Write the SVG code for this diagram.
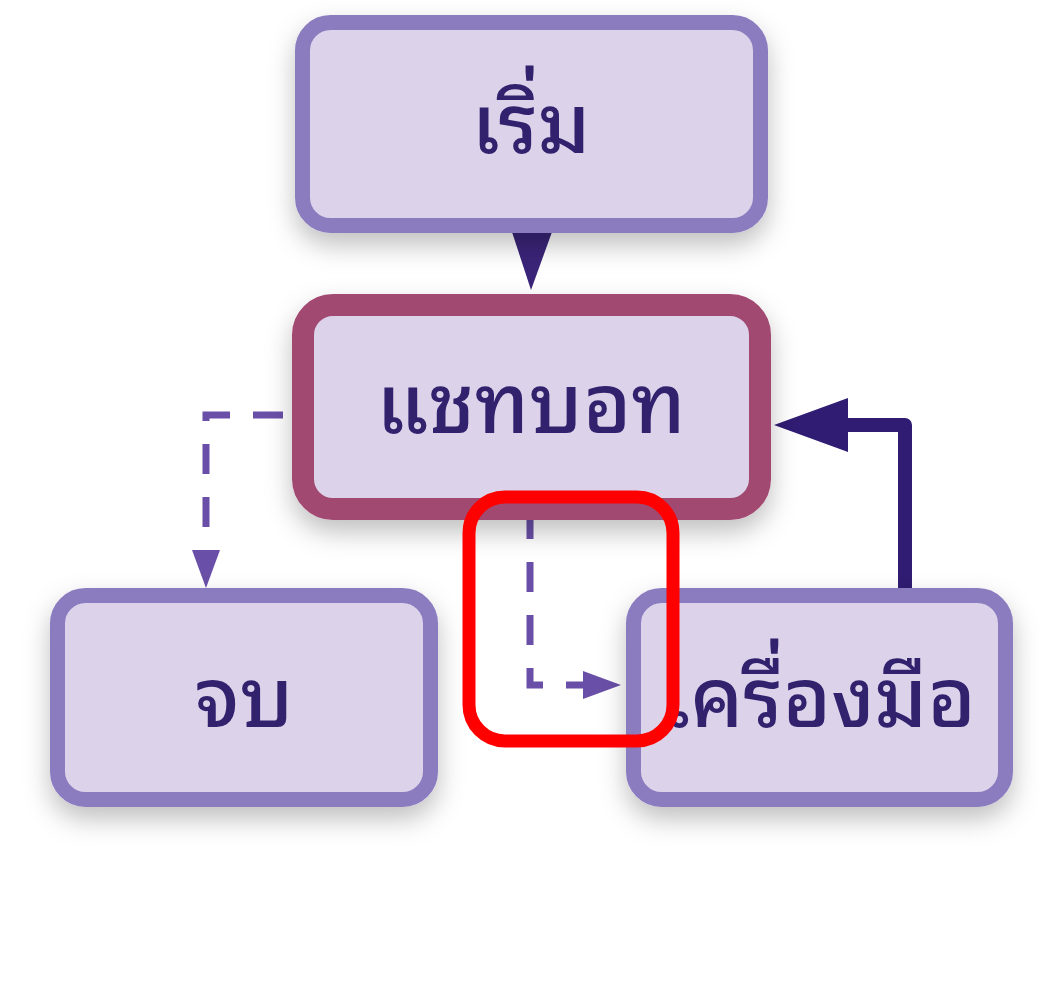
<svg xmlns="http://www.w3.org/2000/svg" width="1064" height="992" viewBox="0 0 1064 992">
  <defs>
    <filter id="shadow" x="-20%" y="-20%" width="140%" height="160%">
      <feDropShadow dx="0" dy="12" stdDeviation="13" flood-color="#000000" flood-opacity="0.25"/>
    </filter>
    <marker id="dashHead" markerUnits="userSpaceOnUse" markerWidth="40" markerHeight="30" refX="0" refY="14" orient="auto">
      <path d="M0,0 L38,14 L0,28 Z" fill="#6a4fa8"/>
    </marker>
    <marker id="solidHead" markerUnits="userSpaceOnUse" markerWidth="76" markerHeight="56" refX="18" refY="27" orient="auto">
      <path d="M0,0 L74,27 L0,54 Z" fill="#301c72"/>
    </marker>
    <style>
      .node { fill: #dcd3ea; stroke: #8b7bc0; stroke-width: 15; }
      .hub { fill: #dcd3ea; stroke: #a24a72; stroke-width: 22; }
      .label { font-family: "Noto Sans Thai Looped", "Garuda", "Loma", "Waree", "Noto Sans Thai", "Noto Sans", "DejaVu Sans", sans-serif; font-size: 82px; fill: #33206e; text-anchor: middle; font-weight: 500; }
      .dash { fill: none; stroke: #6a4fa8; stroke-width: 7; stroke-dasharray: 30 23; }
      .solid { fill: none; stroke: #301c72; stroke-width: 14; stroke-linejoin: round; }
    </style>
  </defs>
  <rect width="1064" height="992" fill="#ffffff"/>

  <g id="connectors">
    <polygon points="512,232 552,232 531,290" fill="#3a2478"/>
    <path class="dash" d="M283,415 H206 V550" marker-end="url(#dashHead)"/>
    <path class="dash" d="M530,519 V685 H583" stroke-dashoffset="10" marker-end="url(#dashHead)"/>
    <path class="solid" d="M905,588 V425 H830" marker-end="url(#solidHead)"/>
  </g>

  <g id="start" filter="url(#shadow)">
    <rect class="node" x="302.5" y="22.5" width="458" height="203" rx="28"/>
    <text class="label" x="531" y="153">เริ่ม</text>
  </g>

  <g id="chatbot" filter="url(#shadow)">
    <rect class="hub" x="303" y="305" width="457" height="204" rx="30"/>
    <text class="label" x="531" y="433">แชทบอท</text>
  </g>

  <g id="end" filter="url(#shadow)">
    <rect class="node" x="57.5" y="595.5" width="373" height="204" rx="28"/>
    <text class="label" x="244" y="727">จบ</text>
  </g>

  <g id="tools" filter="url(#shadow)">
    <rect class="node" x="633.5" y="595.5" width="372" height="204" rx="28"/>
    <text class="label" x="819" y="727">เครื่องมือ</text>
  </g>

  <g id="highlight">
    <rect x="469" y="497" width="204" height="244" rx="36" fill="none" stroke="#ff0000" stroke-width="13"/>
  </g>
</svg>
